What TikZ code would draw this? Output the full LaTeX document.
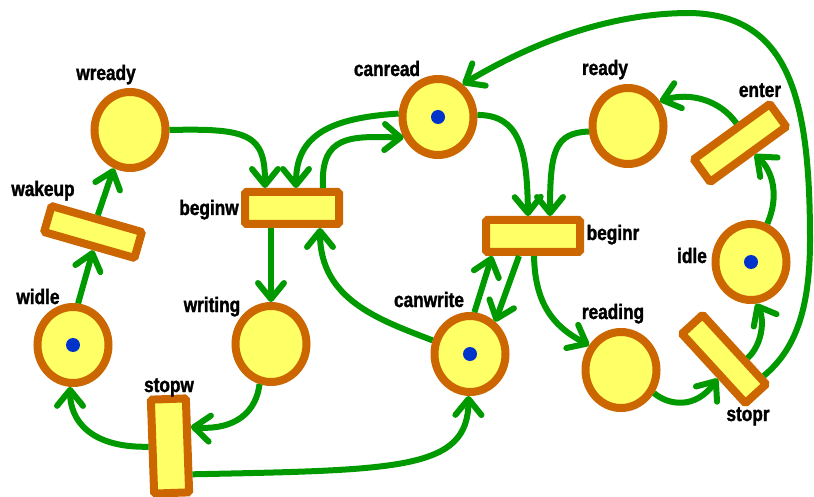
\documentclass[tikz,border=0pt]{standalone}
\usepackage{fontspec}
\newfontfamily\lblfont{Liberation Sans}[FakeStretch=0.82, BoldFeatures={FakeBold=1.5}]
\usetikzlibrary{shapes.geometric,arrows.meta,calc}
\definecolor{brd}{HTML}{CC6600}
\definecolor{yel}{HTML}{FFFF66}
\definecolor{grn}{HTML}{009900}
\definecolor{tok}{HTML}{0033CC}
\tikzset{
  place/.style={ellipse, draw=brd, fill=yel, line width=8pt, minimum width=71pt, minimum height=76pt, inner sep=0pt},
  trans/.style={rectangle, draw=brd, fill=yel, line width=8pt, minimum width=94pt, minimum height=31pt, inner sep=0pt, rounded corners=1.5pt},
  token/.style={circle, fill=tok, minimum size=14pt, inner sep=0pt},
  arc/.style={draw=grn, line width=6pt, -{Straight Barb[length=16pt,width=26pt,round]}},
  lab/.style={anchor=base, inner sep=0pt, font=\lblfont\bfseries\fontsize{21}{21}\selectfont}
}
\begin{document}
\begin{tikzpicture}[x=1pt,y=-1pt]
\useasboundingbox (0,0) rectangle (814,497);
% places
\node[place] (wready) at (130,130) {};
\node[place] (widle) at (73,345) {};
\node[place] (writing) at (271,344) {};
\node[place] (canread) at (438,117) {};
\node[place] (ready) at (628,126) {};
\node[place] (idle) at (751,262) {};
\node[place] (canwrite) at (470,354) {};
\node[place] (reading) at (621,370) {};
% tokens
\node[token] (tw) at (widle) {};
\node[token] (tc) at (canread) {};
\node[token] (ti) at (idle) {};
\node[token] (tcw) at (canwrite) {};
% transitions
\node[trans, minimum height=32pt] (beginw) at (292,208) {};
\node[trans, minimum height=32pt] (beginr) at (533,236) {};
\node[trans, minimum height=35pt, rotate=92] (stopw) at (170,446) {};
\node[trans, minimum height=27pt, rotate=-16] (wakeup) at (93,232) {};
\node[trans, minimum height=28pt, rotate=36] (enter) at (740,143) {};
\node[trans, minimum height=28pt, rotate=-47.5] (stopr) at (724,359) {};
% labels
\node[lab] (lwready) at (106,80) {wready};
\node[lab] (lwakeup) at (43,196) {wakeup};
\node[lab] (lbeginw) at (209,215) {beginw};
\node[lab] (lwidle) at (38,304) {widle};
\node[lab] (lwriting) at (212,312) {writing};
\node[lab] (lstopw) at (169,392) {stopw};
\node[lab] (lcanread) at (387,76) {canread};
\node[lab] (lcanwrite) at (429,307) {canwrite};
\node[lab] (lready) at (605,75) {ready};
\node[lab] (lenter) at (760,97) {enter};
\node[lab] (lbeginr) at (613,240) {beginr};
\node[lab] (lidle) at (692,263) {idle};
\node[lab] (lreading) at (613,319) {reading};
\node[lab] (lstopr) at (748,421) {stopr};
% arcs
\draw[arc] (wready.east) .. controls (250,128) and (265,135) .. ([xshift=-27pt]beginw.north);
\draw[arc] (canread.175) .. controls (330,118) and (296,135) .. ([xshift=4pt]beginw.north);
\draw[arc] ([xshift=31pt]beginw.north) .. controls (320,135) and (350,136) .. (canread.211);
\draw[arc] ([xshift=-21pt]beginw.south) -- (writing.north);
\draw[arc] (writing.254) .. controls (255,420) and (225,430) .. ($(stopw.south)!0.36!(stopw.south east)$);
\draw[arc] (stopw.north) .. controls (90,448) and (70,420) .. (widle.266);
\draw[arc] (widle.83) -- ($(wakeup.south)!0.1!(wakeup.south east)$);
\draw[arc] (wakeup.north) -- (wready.247);
\draw[arc] ($(stopw.south)!0.57!(stopw.south west)$) .. controls (400,470) and (468,470) .. (canwrite.268);
\draw[arc] (canwrite.160) .. controls (380,320) and (320,300) .. ([xshift=28pt]beginw.south);
\draw[arc] (canwrite.84) -- ([xshift=-41pt]beginr.south);
\draw[arc] ([xshift=-14pt]beginr.south) -- (canwrite.52);
\draw[arc] (canread.3) .. controls (520,115) and (527,150) .. ([xshift=-5pt]beginr.north);
\draw[arc] (ready.188) .. controls (555,133) and (550,150) .. ([xshift=17pt]beginr.north);
\draw[arc] ([xshift=1pt]beginr.south) .. controls (535,300) and (550,325) .. (reading.142);
\draw[arc] (reading.325) .. controls (668,405) and (695,410) .. ($(stopr.south)!0.2!(stopr.south east)$);
\draw[arc] ($(stopr.north)!0.3!(stopr.north east)$) .. controls (762,345) and (765,320) .. (idle.277);
\draw[arc] (idle.67) .. controls (780,195) and (772,170) .. ($(enter.south)!0.1!(enter.south east)$);
\draw[arc] ($(enter.north)!0.17!(enter.north east)$) .. controls (720,100) and (690,92) .. (ready.38);
\draw[arc] ($(stopr.north)!0.77!(stopr.north east)$) .. controls (795,350) and (810,310) .. (810,240)
  .. controls (810,100) and (790,15) .. (690,13)
  .. controls (600,13) and (520,50) .. (canread.53);
\end{tikzpicture}
\end{document}
